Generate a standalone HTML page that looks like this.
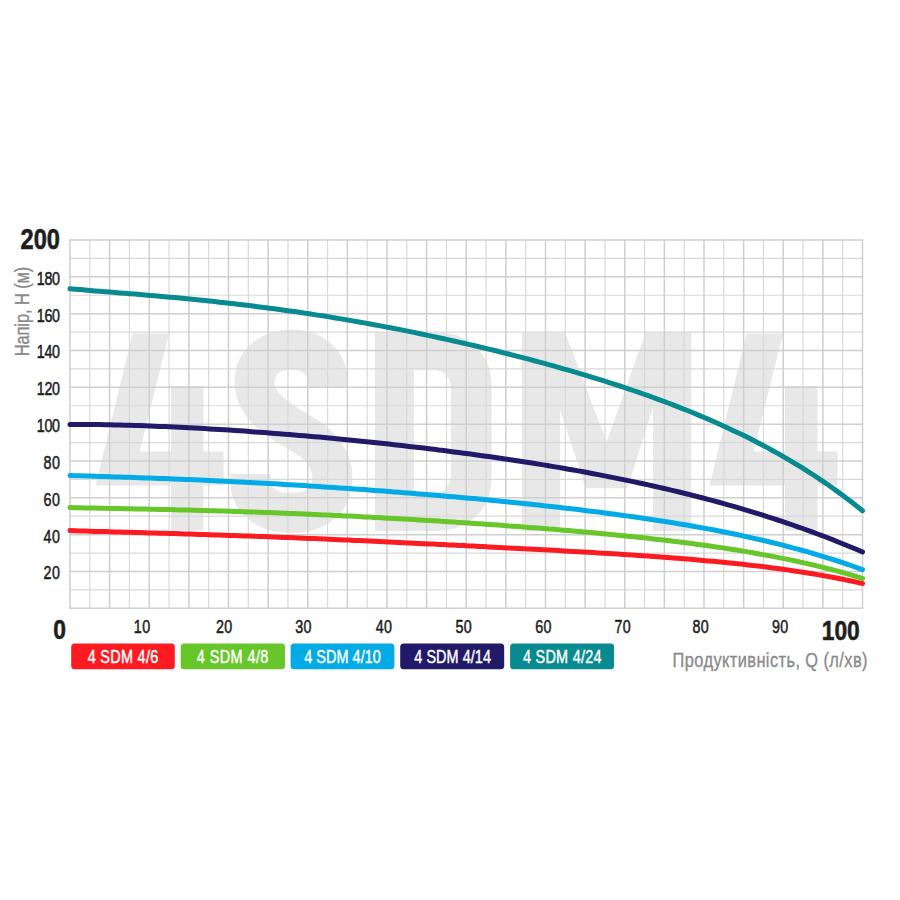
<!DOCTYPE html>
<html><head><meta charset="utf-8"><style>
html,body{margin:0;padding:0;background:#fff;width:900px;height:900px;overflow:hidden}
svg{display:block}
text{font-family:"Liberation Sans",sans-serif}
</style></head><body>
<svg width="900" height="900" viewBox="0 0 900 900">
<rect width="900" height="900" fill="#fff"/>
<g fill="#e8e8e8">
<path d="M132.7,333.4 L169.0,333.4 L139.6,451.5 L171.0,451.5 L171.0,386.0 L203.5,386.0 L203.5,451.5 L223.6,451.5 L223.6,485.5 L203.5,485.5 L203.5,530.5 L171.0,530.5 L171.0,485.5 L95.5,485.5ZM746.7,333.4 L783.0,333.4 L753.6,451.5 L785.0,451.5 L785.0,386.0 L817.5,386.0 L817.5,451.5 L837.6,451.5 L837.6,485.5 L817.5,485.5 L817.5,530.5 L785.0,530.5 L785.0,485.5 L709.5,485.5ZM374.8,332.3 H436 C467,332.3 491.6,352 491.6,386 V477 C491.6,511 467,531 436,531 H374.8 Z M413.9,370 V493 H433 C444,493 451,486 451,474 V389 C451,377 444,370 433,370 Z M521.7,332.3 L565,332.3 L606.6,441.8 L645.7,332.3 L691.4,332.3 L691.4,531 L653,531 L653,407.6 L627.4,488.3 L585.8,488.3 L560.1,410 L560.1,531 L521.7,531 Z" fill-rule="evenodd"/>
<path d="M327.8,387 V382 C327.8,362 312,349.5 292,349.5 C270,349.5 254.6,362 254.6,382 C254.6,404 274,418 297,431 C320,444 332.5,458 332.5,478 C332.5,500 316,513 292,513 C266,513 250.4,500 250.4,482 V474" fill="none" stroke="#e8e8e8" stroke-width="40"/>
</g>
<path d="M89.81,239.25V609.05M129.44,239.25V609.05M169.06,239.25V609.05M208.69,239.25V609.05M248.31,239.25V609.05M287.94,239.25V609.05M327.56,239.25V609.05M367.19,239.25V609.05M406.81,239.25V609.05M446.44,239.25V609.05M486.06,239.25V609.05M525.69,239.25V609.05M565.31,239.25V609.05M604.94,239.25V609.05M644.56,239.25V609.05M684.19,239.25V609.05M723.81,239.25V609.05M763.44,239.25V609.05M803.06,239.25V609.05M842.69,239.25V609.05M69.25,258.42H863.25M69.25,295.25H863.25M69.25,332.07H863.25M69.25,368.90H863.25M69.25,405.74H863.25M69.25,442.56H863.25M69.25,479.39H863.25M69.25,516.22H863.25M69.25,553.05H863.25M69.25,589.88H863.25" stroke="#d9d9d9" stroke-width="1.2" fill="none"/>
<path d="M70.00,239.25V609.05M109.62,239.25V609.05M149.25,239.25V609.05M188.88,239.25V609.05M228.50,239.25V609.05M268.12,239.25V609.05M307.75,239.25V609.05M347.38,239.25V609.05M387.00,239.25V609.05M426.62,239.25V609.05M466.25,239.25V609.05M505.88,239.25V609.05M545.50,239.25V609.05M585.12,239.25V609.05M624.75,239.25V609.05M664.38,239.25V609.05M704.00,239.25V609.05M743.62,239.25V609.05M783.25,239.25V609.05M822.88,239.25V609.05M862.50,239.25V609.05M69.25,240.00H863.25M69.25,276.83H863.25M69.25,313.66H863.25M69.25,350.49H863.25M69.25,387.32H863.25M69.25,424.15H863.25M69.25,460.98H863.25M69.25,497.81H863.25M69.25,534.64H863.25M69.25,571.47H863.25M69.25,608.30H863.25" stroke="#cfcfcf" stroke-width="1.5" fill="none"/>
<path d="M70.0,530.6 L75.0,530.8 L80.0,530.9 L85.0,531.1 L89.9,531.2 L94.9,531.4 L99.9,531.5 L104.9,531.6 L109.9,531.8 L114.9,531.9 L119.8,532.0 L124.8,532.2 L129.8,532.3 L134.8,532.5 L139.8,532.6 L144.8,532.7 L149.7,532.9 L154.7,533.0 L159.7,533.2 L164.7,533.3 L169.7,533.5 L174.7,533.6 L179.7,533.8 L184.6,533.9 L189.6,534.1 L194.6,534.2 L199.6,534.4 L204.6,534.5 L209.6,534.7 L214.5,534.9 L219.5,535.0 L224.5,535.2 L229.5,535.4 L234.5,535.5 L239.5,535.7 L244.4,535.9 L249.4,536.1 L254.4,536.3 L259.4,536.4 L264.4,536.6 L269.4,536.8 L274.4,537.0 L279.3,537.2 L284.3,537.4 L289.3,537.6 L294.3,537.8 L299.3,538.0 L304.3,538.2 L309.2,538.4 L314.2,538.6 L319.2,538.8 L324.2,539.1 L329.2,539.3 L334.2,539.5 L339.2,539.7 L344.1,539.9 L349.1,540.1 L354.1,540.4 L359.1,540.6 L364.1,540.8 L369.1,541.0 L374.0,541.3 L379.0,541.5 L384.0,541.7 L389.0,542.0 L394.0,542.2 L399.0,542.5 L403.9,542.7 L408.9,542.9 L413.9,543.2 L418.9,543.4 L423.9,543.7 L428.9,543.9 L433.9,544.1 L438.8,544.4 L443.8,544.6 L448.8,544.9 L453.8,545.1 L458.8,545.4 L463.8,545.6 L468.7,545.9 L473.7,546.1 L478.7,546.4 L483.7,546.6 L488.7,546.9 L493.7,547.2 L498.6,547.4 L503.6,547.7 L508.6,547.9 L513.6,548.2 L518.6,548.5 L523.6,548.7 L528.6,549.0 L533.5,549.2 L538.5,549.5 L543.5,549.8 L548.5,550.1 L553.5,550.3 L558.5,550.6 L563.4,550.9 L568.4,551.2 L573.4,551.4 L578.4,551.7 L583.4,552.0 L588.4,552.3 L593.3,552.6 L598.3,552.9 L603.3,553.2 L608.3,553.5 L613.3,553.8 L618.3,554.1 L623.3,554.4 L628.2,554.8 L633.2,555.1 L638.2,555.4 L643.2,555.8 L648.2,556.1 L653.2,556.5 L658.1,556.8 L663.1,557.2 L668.1,557.6 L673.1,557.9 L678.1,558.3 L683.1,558.7 L688.1,559.1 L693.0,559.5 L698.0,560.0 L703.0,560.4 L708.0,560.9 L713.0,561.3 L718.0,561.8 L722.9,562.3 L727.9,562.8 L732.9,563.3 L737.9,563.8 L742.9,564.3 L747.9,564.9 L752.8,565.5 L757.8,566.0 L762.8,566.6 L767.8,567.3 L772.8,567.9 L777.8,568.6 L782.8,569.2 L787.7,569.9 L792.7,570.7 L797.7,571.4 L802.7,572.2 L807.7,573.0 L812.7,573.8 L817.6,574.6 L822.6,575.5 L827.6,576.4 L832.6,577.3 L837.6,578.3 L842.6,579.3 L847.5,580.3 L852.5,581.3 L857.5,582.4 L862.5,583.5" stroke="#fd1b22" stroke-width="5.0" fill="none" stroke-linecap="round" stroke-linejoin="round"/><path d="M70.0,507.6 L75.0,507.7 L80.0,507.8 L85.0,507.9 L89.9,508.0 L94.9,508.1 L99.9,508.2 L104.9,508.3 L109.9,508.4 L114.9,508.5 L119.8,508.6 L124.8,508.7 L129.8,508.8 L134.8,508.9 L139.8,509.0 L144.8,509.1 L149.7,509.2 L154.7,509.3 L159.7,509.4 L164.7,509.5 L169.7,509.6 L174.7,509.8 L179.7,509.9 L184.6,510.0 L189.6,510.1 L194.6,510.3 L199.6,510.4 L204.6,510.5 L209.6,510.7 L214.5,510.8 L219.5,511.0 L224.5,511.1 L229.5,511.3 L234.5,511.4 L239.5,511.6 L244.4,511.7 L249.4,511.9 L254.4,512.1 L259.4,512.3 L264.4,512.4 L269.4,512.6 L274.4,512.8 L279.3,513.0 L284.3,513.2 L289.3,513.4 L294.3,513.6 L299.3,513.8 L304.3,514.0 L309.2,514.2 L314.2,514.5 L319.2,514.7 L324.2,514.9 L329.2,515.1 L334.2,515.4 L339.2,515.6 L344.1,515.9 L349.1,516.1 L354.1,516.3 L359.1,516.6 L364.1,516.9 L369.1,517.1 L374.0,517.4 L379.0,517.6 L384.0,517.9 L389.0,518.2 L394.0,518.5 L399.0,518.8 L403.9,519.0 L408.9,519.3 L413.9,519.6 L418.9,519.9 L423.9,520.2 L428.9,520.5 L433.9,520.8 L438.8,521.1 L443.8,521.4 L448.8,521.8 L453.8,522.1 L458.8,522.4 L463.8,522.7 L468.7,523.1 L473.7,523.4 L478.7,523.7 L483.7,524.1 L488.7,524.4 L493.7,524.8 L498.6,525.1 L503.6,525.5 L508.6,525.9 L513.6,526.2 L518.6,526.6 L523.6,527.0 L528.6,527.4 L533.5,527.7 L538.5,528.1 L543.5,528.5 L548.5,528.9 L553.5,529.3 L558.5,529.8 L563.4,530.2 L568.4,530.6 L573.4,531.0 L578.4,531.5 L583.4,531.9 L588.4,532.3 L593.3,532.8 L598.3,533.3 L603.3,533.7 L608.3,534.2 L613.3,534.7 L618.3,535.2 L623.3,535.7 L628.2,536.2 L633.2,536.7 L638.2,537.2 L643.2,537.8 L648.2,538.3 L653.2,538.9 L658.1,539.4 L663.1,540.0 L668.1,540.6 L673.1,541.2 L678.1,541.8 L683.1,542.4 L688.1,543.1 L693.0,543.7 L698.0,544.4 L703.0,545.1 L708.0,545.8 L713.0,546.5 L718.0,547.2 L722.9,547.9 L727.9,548.7 L732.9,549.5 L737.9,550.3 L742.9,551.1 L747.9,551.9 L752.8,552.8 L757.8,553.7 L762.8,554.6 L767.8,555.5 L772.8,556.4 L777.8,557.4 L782.8,558.4 L787.7,559.4 L792.7,560.4 L797.7,561.5 L802.7,562.6 L807.7,563.7 L812.7,564.9 L817.6,566.1 L822.6,567.3 L827.6,568.6 L832.6,569.8 L837.6,571.2 L842.6,572.5 L847.5,573.9 L852.5,575.3 L857.5,576.8 L862.5,578.3" stroke="#67c629" stroke-width="5.0" fill="none" stroke-linecap="round" stroke-linejoin="round"/><path d="M70.0,475.5 L75.0,475.7 L80.0,475.8 L85.0,476.0 L89.9,476.1 L94.9,476.2 L99.9,476.4 L104.9,476.5 L109.9,476.7 L114.9,476.9 L119.8,477.0 L124.8,477.2 L129.8,477.3 L134.8,477.5 L139.8,477.7 L144.8,477.9 L149.7,478.0 L154.7,478.2 L159.7,478.4 L164.7,478.6 L169.7,478.8 L174.7,479.0 L179.7,479.2 L184.6,479.4 L189.6,479.6 L194.6,479.8 L199.6,480.0 L204.6,480.3 L209.6,480.5 L214.5,480.7 L219.5,481.0 L224.5,481.2 L229.5,481.4 L234.5,481.7 L239.5,481.9 L244.4,482.2 L249.4,482.4 L254.4,482.7 L259.4,483.0 L264.4,483.3 L269.4,483.5 L274.4,483.8 L279.3,484.1 L284.3,484.4 L289.3,484.7 L294.3,485.0 L299.3,485.3 L304.3,485.6 L309.2,485.9 L314.2,486.2 L319.2,486.5 L324.2,486.9 L329.2,487.2 L334.2,487.5 L339.2,487.9 L344.1,488.2 L349.1,488.6 L354.1,488.9 L359.1,489.3 L364.1,489.6 L369.1,490.0 L374.0,490.4 L379.0,490.7 L384.0,491.1 L389.0,491.5 L394.0,491.9 L399.0,492.3 L403.9,492.7 L408.9,493.0 L413.9,493.5 L418.9,493.9 L423.9,494.3 L428.9,494.7 L433.9,495.1 L438.8,495.5 L443.8,496.0 L448.8,496.4 L453.8,496.8 L458.8,497.3 L463.8,497.7 L468.7,498.2 L473.7,498.6 L478.7,499.1 L483.7,499.6 L488.7,500.0 L493.7,500.5 L498.6,501.0 L503.6,501.5 L508.6,502.0 L513.6,502.5 L518.6,503.0 L523.6,503.5 L528.6,504.0 L533.5,504.6 L538.5,505.1 L543.5,505.7 L548.5,506.2 L553.5,506.8 L558.5,507.3 L563.4,507.9 L568.4,508.5 L573.4,509.0 L578.4,509.6 L583.4,510.2 L588.4,510.9 L593.3,511.5 L598.3,512.1 L603.3,512.7 L608.3,513.4 L613.3,514.0 L618.3,514.7 L623.3,515.4 L628.2,516.1 L633.2,516.8 L638.2,517.5 L643.2,518.2 L648.2,519.0 L653.2,519.7 L658.1,520.5 L663.1,521.2 L668.1,522.0 L673.1,522.8 L678.1,523.7 L683.1,524.5 L688.1,525.3 L693.0,526.2 L698.0,527.1 L703.0,528.0 L708.0,528.9 L713.0,529.8 L718.0,530.8 L722.9,531.8 L727.9,532.8 L732.9,533.8 L737.9,534.8 L742.9,535.9 L747.9,537.0 L752.8,538.1 L757.8,539.2 L762.8,540.3 L767.8,541.5 L772.8,542.7 L777.8,543.9 L782.8,545.2 L787.7,546.5 L792.7,547.8 L797.7,549.1 L802.7,550.5 L807.7,551.9 L812.7,553.3 L817.6,554.8 L822.6,556.3 L827.6,557.8 L832.6,559.4 L837.6,561.0 L842.6,562.6 L847.5,564.3 L852.5,566.0 L857.5,567.8 L862.5,569.6" stroke="#02abe6" stroke-width="5.0" fill="none" stroke-linecap="round" stroke-linejoin="round"/><path d="M70.0,424.4 L75.0,424.4 L80.0,424.4 L85.0,424.5 L89.9,424.5 L94.9,424.6 L99.9,424.6 L104.9,424.7 L109.9,424.8 L114.9,424.9 L119.8,425.1 L124.8,425.2 L129.8,425.3 L134.8,425.5 L139.8,425.6 L144.8,425.8 L149.7,426.0 L154.7,426.2 L159.7,426.4 L164.7,426.6 L169.7,426.8 L174.7,427.1 L179.7,427.3 L184.6,427.5 L189.6,427.8 L194.6,428.1 L199.6,428.3 L204.6,428.6 L209.6,428.9 L214.5,429.2 L219.5,429.5 L224.5,429.8 L229.5,430.1 L234.5,430.5 L239.5,430.8 L244.4,431.1 L249.4,431.5 L254.4,431.9 L259.4,432.2 L264.4,432.6 L269.4,433.0 L274.4,433.4 L279.3,433.8 L284.3,434.2 L289.3,434.6 L294.3,435.0 L299.3,435.4 L304.3,435.8 L309.2,436.3 L314.2,436.7 L319.2,437.1 L324.2,437.6 L329.2,438.1 L334.2,438.5 L339.2,439.0 L344.1,439.5 L349.1,440.0 L354.1,440.5 L359.1,441.0 L364.1,441.5 L369.1,442.0 L374.0,442.5 L379.0,443.0 L384.0,443.6 L389.0,444.1 L394.0,444.7 L399.0,445.2 L403.9,445.8 L408.9,446.4 L413.9,447.0 L418.9,447.5 L423.9,448.1 L428.9,448.7 L433.9,449.3 L438.8,450.0 L443.8,450.6 L448.8,451.2 L453.8,451.9 L458.8,452.5 L463.8,453.2 L468.7,453.8 L473.7,454.5 L478.7,455.2 L483.7,455.9 L488.7,456.6 L493.7,457.3 L498.6,458.0 L503.6,458.7 L508.6,459.5 L513.6,460.2 L518.6,461.0 L523.6,461.8 L528.6,462.5 L533.5,463.3 L538.5,464.1 L543.5,464.9 L548.5,465.8 L553.5,466.6 L558.5,467.4 L563.4,468.3 L568.4,469.2 L573.4,470.0 L578.4,470.9 L583.4,471.8 L588.4,472.8 L593.3,473.7 L598.3,474.6 L603.3,475.6 L608.3,476.6 L613.3,477.6 L618.3,478.6 L623.3,479.6 L628.2,480.6 L633.2,481.6 L638.2,482.7 L643.2,483.8 L648.2,484.9 L653.2,486.0 L658.1,487.1 L663.1,488.2 L668.1,489.4 L673.1,490.6 L678.1,491.8 L683.1,493.0 L688.1,494.2 L693.0,495.5 L698.0,496.7 L703.0,498.0 L708.0,499.3 L713.0,500.7 L718.0,502.0 L722.9,503.4 L727.9,504.8 L732.9,506.2 L737.9,507.6 L742.9,509.1 L747.9,510.6 L752.8,512.1 L757.8,513.6 L762.8,515.2 L767.8,516.8 L772.8,518.4 L777.8,520.0 L782.8,521.6 L787.7,523.3 L792.7,525.0 L797.7,526.8 L802.7,528.5 L807.7,530.3 L812.7,532.1 L817.6,534.0 L822.6,535.8 L827.6,537.8 L832.6,539.7 L837.6,541.7 L842.6,543.7 L847.5,545.7 L852.5,547.7 L857.5,549.8 L862.5,552.0" stroke="#221a68" stroke-width="5.0" fill="none" stroke-linecap="round" stroke-linejoin="round"/><path d="M70.0,288.8 L75.0,289.2 L80.0,289.6 L85.0,290.0 L89.9,290.5 L94.9,290.9 L99.9,291.3 L104.9,291.7 L109.9,292.1 L114.9,292.5 L119.8,292.9 L124.8,293.3 L129.8,293.7 L134.8,294.1 L139.8,294.6 L144.8,295.0 L149.7,295.4 L154.7,295.8 L159.7,296.3 L164.7,296.7 L169.7,297.2 L174.7,297.6 L179.7,298.1 L184.6,298.6 L189.6,299.1 L194.6,299.6 L199.6,300.1 L204.6,300.6 L209.6,301.1 L214.5,301.6 L219.5,302.2 L224.5,302.7 L229.5,303.3 L234.5,303.8 L239.5,304.4 L244.4,305.0 L249.4,305.6 L254.4,306.2 L259.4,306.9 L264.4,307.5 L269.4,308.2 L274.4,308.8 L279.3,309.5 L284.3,310.2 L289.3,310.9 L294.3,311.6 L299.3,312.3 L304.3,313.1 L309.2,313.8 L314.2,314.6 L319.2,315.4 L324.2,316.1 L329.2,316.9 L334.2,317.8 L339.2,318.6 L344.1,319.4 L349.1,320.3 L354.1,321.1 L359.1,322.0 L364.1,322.9 L369.1,323.8 L374.0,324.7 L379.0,325.6 L384.0,326.6 L389.0,327.5 L394.0,328.5 L399.0,329.4 L403.9,330.4 L408.9,331.4 L413.9,332.4 L418.9,333.5 L423.9,334.5 L428.9,335.6 L433.9,336.6 L438.8,337.7 L443.8,338.8 L448.8,339.9 L453.8,341.0 L458.8,342.1 L463.8,343.2 L468.7,344.4 L473.7,345.5 L478.7,346.7 L483.7,347.9 L488.7,349.1 L493.7,350.3 L498.6,351.5 L503.6,352.8 L508.6,354.0 L513.6,355.3 L518.6,356.6 L523.6,357.9 L528.6,359.2 L533.5,360.5 L538.5,361.8 L543.5,363.2 L548.5,364.6 L553.5,365.9 L558.5,367.3 L563.4,368.8 L568.4,370.2 L573.4,371.6 L578.4,373.1 L583.4,374.6 L588.4,376.1 L593.3,377.6 L598.3,379.2 L603.3,380.7 L608.3,382.3 L613.3,383.9 L618.3,385.5 L623.3,387.2 L628.2,388.8 L633.2,390.5 L638.2,392.2 L643.2,394.0 L648.2,395.7 L653.2,397.5 L658.1,399.3 L663.1,401.2 L668.1,403.0 L673.1,404.9 L678.1,406.9 L683.1,408.8 L688.1,410.8 L693.0,412.8 L698.0,414.9 L703.0,417.0 L708.0,419.1 L713.0,421.3 L718.0,423.5 L722.9,425.7 L727.9,428.0 L732.9,430.4 L737.9,432.7 L742.9,435.1 L747.9,437.6 L752.8,440.1 L757.8,442.7 L762.8,445.3 L767.8,447.9 L772.8,450.7 L777.8,453.4 L782.8,456.3 L787.7,459.1 L792.7,462.1 L797.7,465.1 L802.7,468.2 L807.7,471.3 L812.7,474.5 L817.6,477.8 L822.6,481.1 L827.6,484.5 L832.6,488.0 L837.6,491.6 L842.6,495.2 L847.5,499.0 L852.5,502.8 L857.5,506.7 L862.5,510.7" stroke="#088b90" stroke-width="5.0" fill="none" stroke-linecap="round" stroke-linejoin="round"/>
<text transform="translate(43.60,579.47) scale(0.76,1)" font-size="18.8" font-weight="normal" style="fill:#1e1e1e" textLength="21.58" lengthAdjust="spacing" stroke="#1e1e1e" stroke-width="0.55">20</text><text transform="translate(43.60,542.64) scale(0.76,1)" font-size="18.8" font-weight="normal" style="fill:#1e1e1e" textLength="21.58" lengthAdjust="spacing" stroke="#1e1e1e" stroke-width="0.55">40</text><text transform="translate(43.60,505.81) scale(0.76,1)" font-size="18.8" font-weight="normal" style="fill:#1e1e1e" textLength="21.58" lengthAdjust="spacing" stroke="#1e1e1e" stroke-width="0.55">60</text><text transform="translate(43.60,468.98) scale(0.76,1)" font-size="18.8" font-weight="normal" style="fill:#1e1e1e" textLength="21.58" lengthAdjust="spacing" stroke="#1e1e1e" stroke-width="0.55">80</text><text transform="translate(36.80,432.15) scale(0.76,1)" font-size="18.8" font-weight="normal" style="fill:#1e1e1e" textLength="30.53" lengthAdjust="spacing" stroke="#1e1e1e" stroke-width="0.55">100</text><text transform="translate(36.80,395.32) scale(0.76,1)" font-size="18.8" font-weight="normal" style="fill:#1e1e1e" textLength="30.53" lengthAdjust="spacing" stroke="#1e1e1e" stroke-width="0.55">120</text><text transform="translate(36.80,358.49) scale(0.76,1)" font-size="18.8" font-weight="normal" style="fill:#1e1e1e" textLength="30.53" lengthAdjust="spacing" stroke="#1e1e1e" stroke-width="0.55">140</text><text transform="translate(36.80,321.66) scale(0.76,1)" font-size="18.8" font-weight="normal" style="fill:#1e1e1e" textLength="30.53" lengthAdjust="spacing" stroke="#1e1e1e" stroke-width="0.55">160</text><text transform="translate(36.80,284.83) scale(0.76,1)" font-size="18.8" font-weight="normal" style="fill:#1e1e1e" textLength="30.53" lengthAdjust="spacing" stroke="#1e1e1e" stroke-width="0.55">180</text><text transform="translate(133.70,632.80) scale(0.76,1)" font-size="18.8" font-weight="normal" style="fill:#1e1e1e" textLength="21.84" lengthAdjust="spacing" stroke="#1e1e1e" stroke-width="0.55">10</text><text transform="translate(215.90,632.80) scale(0.76,1)" font-size="18.8" font-weight="normal" style="fill:#1e1e1e" textLength="21.32" lengthAdjust="spacing" stroke="#1e1e1e" stroke-width="0.55">20</text><text transform="translate(295.20,632.80) scale(0.76,1)" font-size="18.8" font-weight="normal" style="fill:#1e1e1e" textLength="21.32" lengthAdjust="spacing" stroke="#1e1e1e" stroke-width="0.55">30</text><text transform="translate(375.80,632.80) scale(0.76,1)" font-size="18.8" font-weight="normal" style="fill:#1e1e1e" textLength="21.32" lengthAdjust="spacing" stroke="#1e1e1e" stroke-width="0.55">40</text><text transform="translate(455.50,632.80) scale(0.76,1)" font-size="18.8" font-weight="normal" style="fill:#1e1e1e" textLength="21.32" lengthAdjust="spacing" stroke="#1e1e1e" stroke-width="0.55">50</text><text transform="translate(535.20,632.80) scale(0.76,1)" font-size="18.8" font-weight="normal" style="fill:#1e1e1e" textLength="21.32" lengthAdjust="spacing" stroke="#1e1e1e" stroke-width="0.55">60</text><text transform="translate(614.50,632.80) scale(0.76,1)" font-size="18.8" font-weight="normal" style="fill:#1e1e1e" textLength="21.32" lengthAdjust="spacing" stroke="#1e1e1e" stroke-width="0.55">70</text><text transform="translate(692.50,632.80) scale(0.76,1)" font-size="18.8" font-weight="normal" style="fill:#1e1e1e" textLength="21.32" lengthAdjust="spacing" stroke="#1e1e1e" stroke-width="0.55">80</text><text transform="translate(771.90,632.80) scale(0.76,1)" font-size="18.8" font-weight="normal" style="fill:#1e1e1e" textLength="21.32" lengthAdjust="spacing" stroke="#1e1e1e" stroke-width="0.55">90</text><text transform="translate(20.50,249.20) scale(0.8,1)" font-size="29.5" font-weight="bold" style="fill:#1e1e1e" textLength="49.38" lengthAdjust="spacing" stroke="#1e1e1e" stroke-width="0.6">200</text><text transform="translate(53.30,638.80) scale(0.8,1)" font-size="28.5" font-weight="bold" style="fill:#1e1e1e" textLength="16.50" lengthAdjust="spacing" stroke="#1e1e1e" stroke-width="0.6">0</text><text transform="translate(821.80,639.70) scale(0.8,1)" font-size="28.5" font-weight="bold" style="fill:#1e1e1e" textLength="47.50" lengthAdjust="spacing" stroke="#1e1e1e" stroke-width="0.6">100</text><text transform="translate(29.3,356.3) rotate(-90) translate(0.00,0.00) scale(0.8,1)" font-size="20.5" font-weight="normal" style="fill:#8a8a8a" textLength="111.88" lengthAdjust="spacing" stroke="#8a8a8a" stroke-width="0.35">Напір, Н (м)</text><text transform="translate(672.50,666.50) scale(0.8,1)" font-size="20.5" font-weight="normal" style="fill:#8a8a8a" textLength="243.75" lengthAdjust="spacing" stroke="#8a8a8a" stroke-width="0.35">Продуктивність, Q (л/хв)</text>
<rect x="71.2" y="643.6" width="103.6" height="25.6" rx="3.5" fill="#fd1b22"/><text transform="translate(87.70,663.30) scale(0.78,1)" font-size="18.5" font-weight="normal" style="fill:#fff" textLength="90.51" lengthAdjust="spacing" stroke="#fff" stroke-width="0.45">4 SDM 4/6</text><rect x="180.7" y="643.6" width="104.3" height="25.6" rx="3.5" fill="#67c629"/><text transform="translate(196.80,663.30) scale(0.78,1)" font-size="18.5" font-weight="normal" style="fill:#fff" textLength="91.79" lengthAdjust="spacing" stroke="#fff" stroke-width="0.45">4 SDM 4/8</text><rect x="290.6" y="643.6" width="103.8" height="25.6" rx="3.5" fill="#02abe6"/><text transform="translate(304.20,663.30) scale(0.78,1)" font-size="18.5" font-weight="normal" style="fill:#fff" textLength="98.21" lengthAdjust="spacing" stroke="#fff" stroke-width="0.45">4 SDM 4/10</text><rect x="400.2" y="643.6" width="104.0" height="25.6" rx="3.5" fill="#221a68"/><text transform="translate(414.30,663.30) scale(0.78,1)" font-size="18.5" font-weight="normal" style="fill:#fff" textLength="98.33" lengthAdjust="spacing" stroke="#fff" stroke-width="0.45">4 SDM 4/14</text><rect x="510.1" y="643.6" width="104.0" height="25.6" rx="3.5" fill="#088b90"/><text transform="translate(522.90,663.30) scale(0.78,1)" font-size="18.5" font-weight="normal" style="fill:#fff" textLength="100.90" lengthAdjust="spacing" stroke="#fff" stroke-width="0.45">4 SDM 4/24</text>
</svg>
</body></html>
